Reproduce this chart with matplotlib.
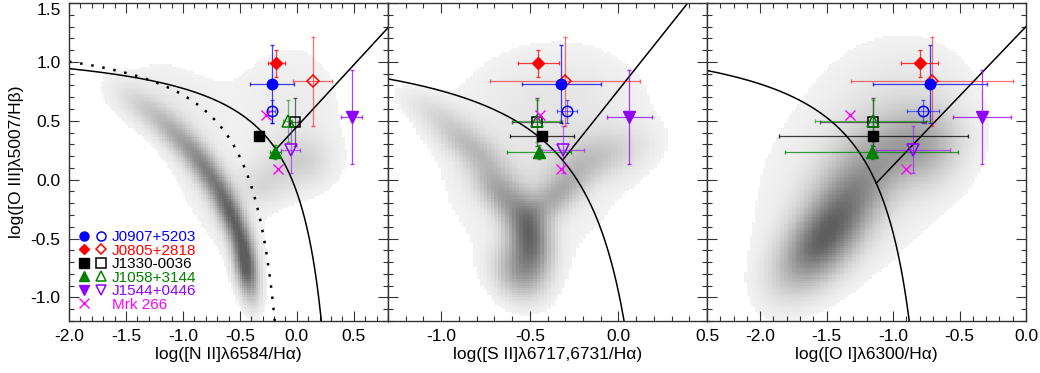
#!/usr/bin/python3

import numpy as np
import matplotlib
matplotlib.use('Agg')
import matplotlib.pyplot as plt
from matplotlib.lines import Line2D
from matplotlib.legend_handler import HandlerTuple

# --- objects (filled = one component, open = the other) ---
names = ['J0907+5203', 'J0805+2818', 'J1330-0036', 'J1058+3144', 'J1544+0446']
colors = ['blue', 'red', 'black', 'green', '#8f00ff']
markers = ['o', 'D', 's', '^', 'v']
msizes = [7.5, 6.5, 7.5, 8.5, 8.5]

# log([O III]/Hb)
y_filled = [0.81, 0.99, 0.373, 0.235, 0.53]
y_open = [0.58, 0.835, 0.49, 0.50, 0.254]
yerr_filled = [0.33, 0.115, 0.0, 0.06, 0.40]
yerr_open = [0.10, 0.38, 0.20, 0.18, 0.20]

# log([N II]/Ha)
nii_filled = [-0.22, -0.18, -0.33, -0.19, 0.48]
nii_open = [-0.22, 0.14, -0.02, -0.08, -0.055]
nii_xerr_filled = [0.195, 0.077, 0.0, 0.05, 0.095]
nii_xerr_open = [0.03, 0.17, 0.03, 0.04, 0.085]

# log([S II]/Ha)
sii_filled = [-0.323, -0.451, -0.432, -0.45, 0.062]
sii_open = [-0.29, -0.30, -0.46, -0.46, -0.313]
sii_xerr_filled = [0.223, 0.117, 0.18, 0.18, 0.127]
sii_xerr_open = [0.057, 0.424, 0.14, 0.133, 0.118]

# log([O I]/Ha)
oi_filled = [-0.723, -0.80, -1.15, -1.16, -0.33]
oi_open = [-0.774, -0.71, -1.15, -1.154, -0.849]
oi_xerr_filled = [0.43, 0.14, 0.71, 0.65, 0.22]
oi_xerr_open = [0.12, 0.61, 0.40, 0.43, 0.28]

# Mrk 266 (two nuclei)
mrk_y = [0.545, 0.09]
mrk_nii = [-0.272, -0.166]
mrk_sii = [-0.441, -0.323]
mrk_oi = [-1.325, -0.904]

nii_blobs = [(-0.45, -0.72, 0.2, 0.065, 100, 1.0), (-0.58, -0.30, 0.2, 0.07, 112, 0.75),
             (-0.78, 0.05, 0.2, 0.075, 122, 0.55), (-1.02, 0.33, 0.2, 0.08, 135, 0.38),
             (-1.32, 0.6, 0.22, 0.085, 145, 0.2), (-0.75, -0.05, 0.65, 0.24, 118, 0.1),
             (0.02, 0.15, 0.2, 0.16, 0, 0.22), (-0.05, 0.6, 0.4, 0.5, 0, 0.1),
             (-0.3, -0.05, 0.15, 0.12, 0, 0.15), (-1.25, 0.7, 0.45, 0.25, 0, 0.07)]
sii_blobs = [(-0.5, -0.52, 0.22, 0.08, 95, 0.8), (-0.58, -0.8, 0.16, 0.09, 100, 0.4),
             (-0.66, -0.12, 0.2, 0.08, 115, 0.45), (-0.85, 0.3, 0.2, 0.08, 130, 0.3),
             (-1.05, 0.6, 0.18, 0.08, 140, 0.12), (-0.34, -0.12, 0.18, 0.08, 60, 0.4),
             (-0.12, 0.2, 0.2, 0.13, 30, 0.25), (-0.5, 0.0, 0.65, 0.45, 90, 0.1),
             (-0.3, 0.7, 0.38, 0.38, 0, 0.09)]
oi_blobs = [(-1.55, -0.55, 0.3, 0.16, 55, 0.8), (-1.32, -0.12, 0.28, 0.18, 55, 0.45),
            (-1.0, 0.25, 0.28, 0.22, 20, 0.28), (-0.75, 0.3, 0.18, 0.22, 0, 0.25),
            (-1.3, 0.0, 0.75, 0.55, 60, 0.12), (-0.9, 0.7, 0.38, 0.38, 0, 0.09)]

YLIM = (-1.2, 1.5)


def density(ax, xlim, blobs):
    xs = np.arange(xlim[0], xlim[1], 0.02) + 0.01
    ys = np.arange(YLIM[0], YLIM[1], 0.02) + 0.01
    xx, yy = np.meshgrid(xs, ys)
    d = np.zeros_like(xx)
    for cx, cy, sa, sc, ang, w in blobs:
        t = np.radians(ang)
        u = (xx - cx) * np.cos(t) + (yy - cy) * np.sin(t)
        v = -(xx - cx) * np.sin(t) + (yy - cy) * np.cos(t)
        d += w * np.exp(-0.5 * ((u / sa) ** 2 + (v / sc) ** 2))
    d = np.clip(d, 0, 1)
    g = np.minimum(0.96, 0.99 - 0.62 * d)
    g[d < 0.06] = 1.0
    rgb = np.dstack([g, g, g])
    ax.imshow(rgb, extent=(xlim[0], xlim[1], YLIM[0], YLIM[1]), origin='lower',
              aspect='auto', interpolation='nearest', zorder=0)


def points(ax, xf, xo, xef, xeo, mx):
    for i in range(len(names)):
        c = colors[i]
        # open component
        ax.errorbar(xo[i], y_open[i], xerr=xeo[i], yerr=yerr_open[i], fmt='none',
                    ecolor=c, alpha=0.55, elinewidth=0.9, capsize=1.5, zorder=3)
        ax.plot(xo[i], y_open[i], marker=markers[i], color=c, mfc='none', mew=1.1,
                ms=msizes[i], ls='none', zorder=4)
        # filled component
        ax.errorbar(xf[i], y_filled[i], xerr=xef[i], yerr=yerr_filled[i], fmt='none',
                    ecolor=c, alpha=0.75, elinewidth=0.9, capsize=1.5, zorder=3)
        ax.plot(xf[i], y_filled[i], marker=markers[i], color=c, ms=msizes[i], ls='none', zorder=5)
    ax.plot(mx, mrk_y, 'x', color='magenta', ms=7, mew=1.0, zorder=5)


def style(ax, xlim, xticks):
    ax.set_xlim(xlim)
    ax.set_ylim(YLIM)
    ax.set_xticks(xticks)
    ax.set_xticks(np.arange(-2.4, 0.81, 0.1), minor=True)
    ax.set_yticks([-1.0, -0.5, 0.0, 0.5, 1.0, 1.5])
    ax.set_yticks(np.arange(-1.2, 1.51, 0.1), minor=True)
    ax.set_xlim(xlim)
    ax.xaxis.set_major_formatter(matplotlib.ticker.FormatStrFormatter('%.1f'))
    ax.yaxis.set_major_formatter(matplotlib.ticker.FormatStrFormatter('%.1f'))
    ax.tick_params(which='both', direction='in', top=True, right=True, width=0.8,
                   color='#333333', labelsize=12.5, pad=6)
    ax.tick_params(which='major', length=7)
    ax.tick_params(which='minor', length=3.5)
    for sp in ax.spines.values():
        sp.set_color('#333333')
        sp.set_linewidth(1.0)


def main():
    plt.rcParams['font.family'] = ['Liberation Sans', 'DejaVu Sans']
    plt.rcParams['axes.unicode_minus'] = False

    fig = plt.figure(figsize=(10.4, 3.73), dpi=100)
    w = 319 / 1040
    h = 318 / 373
    b = 52 / 373
    ax1 = fig.add_axes([69 / 1040, b, w, h])
    ax2 = fig.add_axes([388 / 1040, b, w, h])
    ax3 = fig.add_axes([707 / 1040, b, w, h])

    # ---------------- [N II] ----------------
    lim1 = (-2.0, 0.8)
    density(ax1, lim1, nii_blobs)
    x = np.linspace(-2.0, 0.47 + 0.61 / (YLIM[0] - 1.19), 400)
    ax1.plot(x, 0.61 / (x - 0.47) + 1.19, color='black', lw=1.1, zorder=2)
    x = np.linspace(-2.0, 0.05 + 0.61 / (YLIM[0] - 1.3), 400)
    ax1.plot(x, 0.61 / (x - 0.05) + 1.3, color='black', lw=1.8, ls=(0, (1, 3.5)), zorder=2)
    # line meets Kewley curve
    r = np.roots([1.05, -(1.05 * 0.47 + 0.74), 0.74 * 0.47 - 0.61]).min()
    x = np.linspace(r, 0.8, 50)
    ax1.plot(x, 1.05 * x + 0.45, color='black', lw=1.1, zorder=2)
    points(ax1, nii_filled, nii_open, nii_xerr_filled, nii_xerr_open, mrk_nii)
    style(ax1, lim1, [-2.0, -1.5, -1.0, -0.5, 0.0, 0.5])
    ax1.set_xlabel('log([N II]λ6584/Hα)', fontsize=12.5, labelpad=2)
    ax1.set_ylabel('log([O III]λ5007/Hβ)', fontsize=12.5, labelpad=5)
    ax1.get_yticklabels()[-1].set_verticalalignment('top')

    # legend with filled + open symbol pairs
    handles = []
    for i in range(len(names)):
        f = Line2D([], [], marker=markers[i], color=colors[i], ls='none', ms=msizes[i] - 1)
        o = Line2D([], [], marker=markers[i], color=colors[i], mfc='none', ls='none',
                   ms=msizes[i] - 1, mew=1.1)
        handles.append((f, o))
    handles.append((Line2D([], [], marker='x', color='magenta', ls='none', ms=7),
                    Line2D([], [], ls='none')))
    leg = ax1.legend(handles, names + ['Mrk 266'], loc='lower left', frameon=False,
                     handler_map={tuple: HandlerTuple(ndivide=None, pad=0.4)},
                     handlelength=1.9, handletextpad=0.3, labelspacing=-0.03,
                     fontsize=11, borderaxespad=0.3, borderpad=0.3)
    for t, c in zip(leg.get_texts(), colors + ['magenta']):
        t.set_color(c)

    # ---------------- [S II] ----------------
    lim2 = (-1.3, 0.5)
    density(ax2, lim2, sii_blobs)
    x = np.linspace(-1.3, 0.32 + 0.72 / (YLIM[0] - 1.30), 400)
    ax2.plot(x, 0.72 / (x - 0.32) + 1.30, color='black', lw=1.1, zorder=2)
    r = np.roots([1.89, -(1.89 * 0.32 + 0.54), 0.54 * 0.32 - 0.72]).min()
    x = np.linspace(r, (1.5 - 0.76) / 1.89, 50)
    ax2.plot(x, 1.89 * x + 0.76, color='black', lw=1.1, zorder=2)
    points(ax2, sii_filled, sii_open, sii_xerr_filled, sii_xerr_open, mrk_sii)
    style(ax2, lim2, [-1.0, -0.5, 0.0, 0.5])
    ax2.tick_params(labelleft=False)
    ax2.set_xlabel('log([S II]λ6717,6731/Hα)', fontsize=12.5, labelpad=2)

    # ---------------- [O I] ----------------
    lim3 = (-2.4, 0.0)
    density(ax3, lim3, oi_blobs)
    x = np.linspace(-2.4, -0.59 + 0.73 / (YLIM[0] - 1.33), 400)
    ax3.plot(x, 0.73 / (x + 0.59) + 1.33, color='black', lw=1.1, zorder=2)
    r = np.roots([1.18, 1.18 * 0.59 - 0.03, -0.03 * 0.59 - 0.73]).min()
    x = np.linspace(r, 0.0, 50)
    ax3.plot(x, 1.18 * x + 1.30, color='black', lw=1.1, zorder=2)
    points(ax3, oi_filled, oi_open, oi_xerr_filled, oi_xerr_open, mrk_oi)
    style(ax3, lim3, [-2.0, -1.5, -1.0, -0.5, 0.0])
    ax3.tick_params(labelleft=False)
    ax3.set_xlabel('log([O I]λ6300/Hα)', fontsize=12.5, labelpad=2)

    fig.savefig('out.png', dpi=100)
    plt.close(fig)


if __name__ == '__main__':
    main()
